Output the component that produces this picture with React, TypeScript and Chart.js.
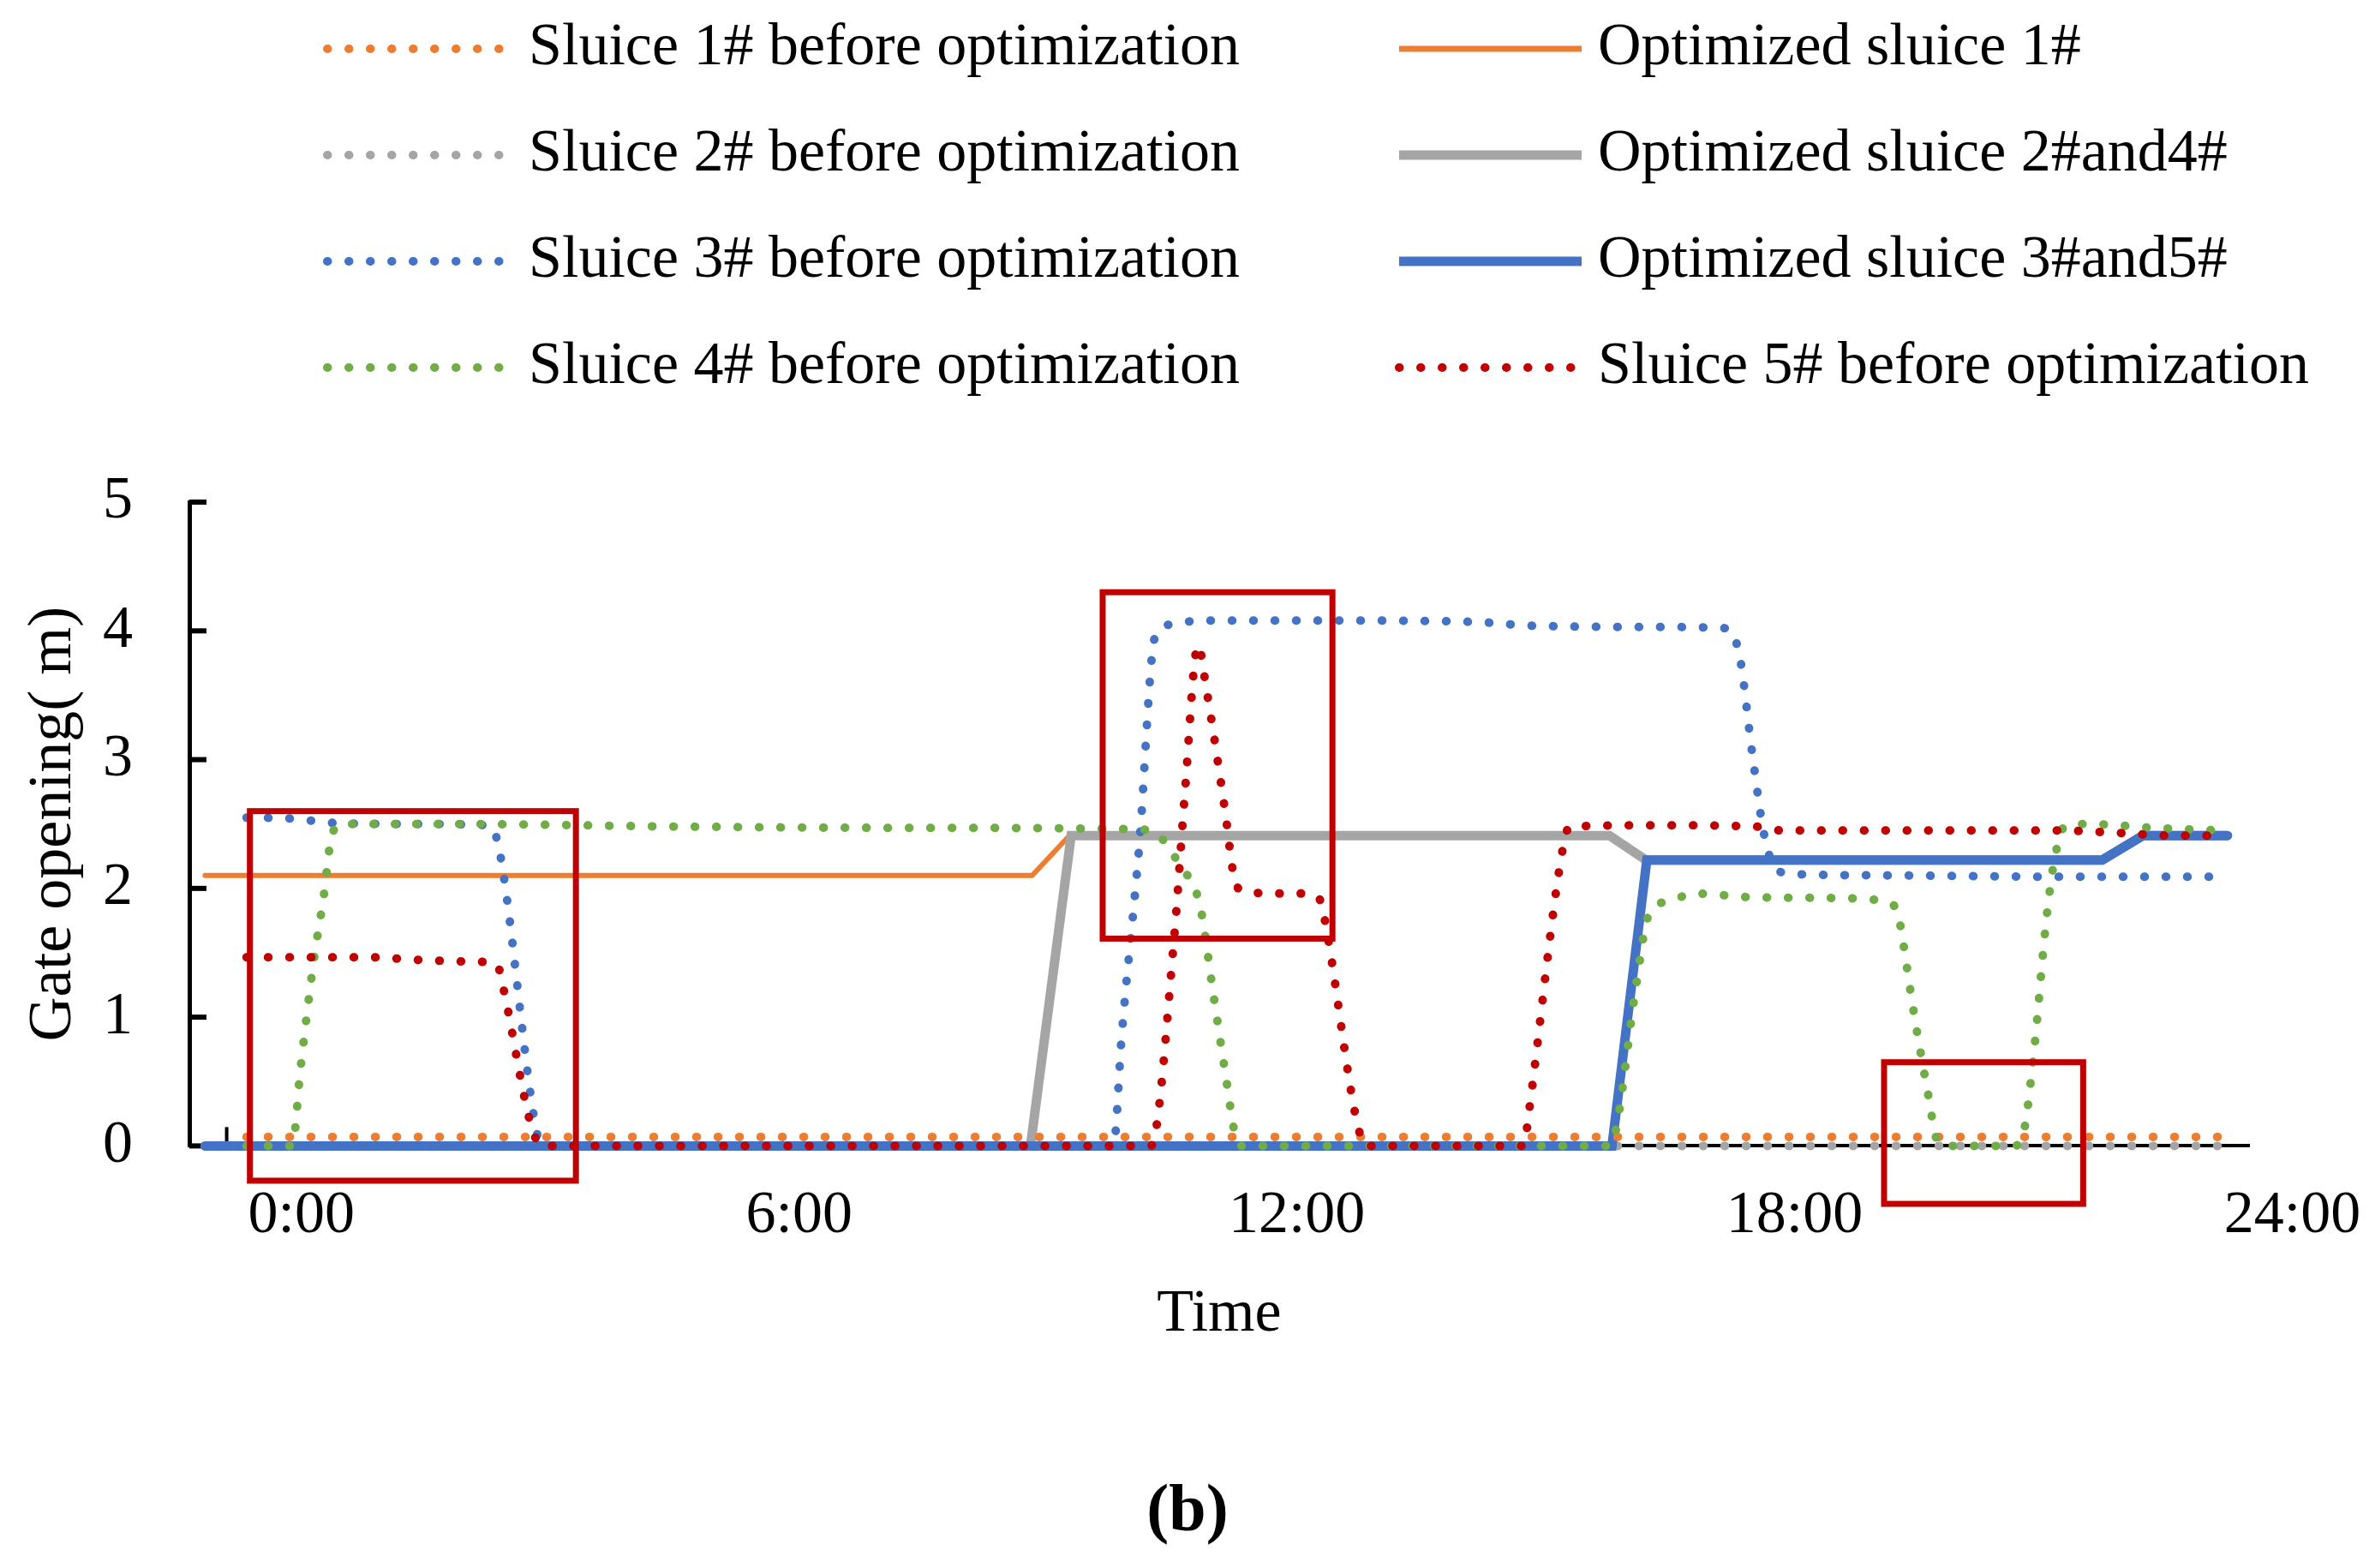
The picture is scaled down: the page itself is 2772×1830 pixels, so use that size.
import React, { useEffect, useRef } from 'react';
import { Chart, registerables } from 'chart.js';

Chart.register(...registerables);

const FONT = '"Liberation Serif", "Times New Roman", Times, serif';

// ---------- axis ticks ----------
const X_TICK_HOURS = [0, 6, 12, 18, 24];
const X_TICK_LABELS = ['0:00', '6:00', '12:00', '18:00', '24:00'];
const X_INNER_TICKS = [-0.24];
const Y_TICKS = [0, 1, 2, 3, 4, 5];

// ---------- series (hours, gate opening in m) ----------
const S1_BEFORE_H = [0, 23.78];
const S1_BEFORE_V = [0.07, 0.07];

const S2_BEFORE_H = [0, 23.78];
const S2_BEFORE_V = [0, 0];

const S3_BEFORE_H = [0, 0.6, 1.0, 2.0, 2.92, 3.04, 3.5, 3.57, 10.45, 10.55, 10.76, 10.95, 11.15, 11.5, 13.0, 14.8, 15.5, 17.0, 17.85, 18.0, 18.15, 18.3, 18.45, 18.7, 20.0, 22.0, 23.78];
const S3_BEFORE_V = [2.55, 2.54, 2.51, 2.5, 2.49, 2.32, 0.1, 0, 0, 0.86, 2.32, 3.95, 4.05, 4.08, 4.08, 4.07, 4.04, 4.03, 4.02, 3.8, 3.05, 2.4, 2.14, 2.11, 2.1, 2.09, 2.09];

const S4_BEFORE_H = [0, 0.55, 0.65, 0.81, 0.93, 1.03, 1.16, 2.5, 5.2, 8.0, 10.7, 11.0, 11.15, 11.3, 11.43, 11.5, 11.65, 11.8, 11.92, 12.0, 16.43, 16.75, 16.87, 16.97, 17.2, 17.45, 18.2, 19.5, 19.72, 19.9, 19.95, 20.1, 20.28, 20.37, 20.5, 21.3, 21.42, 21.55, 21.69, 21.79, 21.93, 22.2, 23.0, 23.78];
const S4_BEFORE_V = [0, 0, 0.6, 1.44, 1.94, 2.42, 2.5, 2.5, 2.48, 2.47, 2.46, 2.41, 2.28, 2.14, 2.0, 1.85, 1.2, 0.56, 0.08, 0, 0, 1.24, 1.73, 1.85, 1.91, 1.96, 1.93, 1.92, 1.9, 1.83, 1.66, 1.03, 0.37, 0.06, 0, 0, 0.1, 0.75, 1.72, 2.21, 2.49, 2.5, 2.47, 2.45];

const S5_BEFORE_H = [0, 1.5, 2.05, 2.8, 3.02, 3.09, 3.43, 3.56, 10.9, 11.18, 11.31, 11.47, 11.57, 11.8, 11.9, 12.0, 12.5, 12.8, 12.95, 13.0, 13.46, 13.5, 15.4, 15.45, 15.87, 15.95, 17.0, 18.2, 18.5, 21.8, 22.6, 23.2, 23.78];
const S5_BEFORE_V = [1.465, 1.465, 1.445, 1.43, 1.41, 1.24, 0.16, 0, 0, 1.6, 2.73, 3.89, 3.55, 2.58, 2.1, 1.98, 1.96, 1.96, 1.9, 1.75, 0.02, 0, 0, 0.22, 2.32, 2.48, 2.49, 2.48, 2.45, 2.45, 2.43, 2.41, 2.41];

const OPT1_H = [-0.5, 9.47, 9.92, 16.43, 16.87, 22.37, 22.86, 23.88];
const OPT1_V = [2.1, 2.1, 2.41, 2.41, 2.22, 2.22, 2.41, 2.41];

const OPT24_H = [-0.5, 9.45, 9.94, 16.43, 16.87, 22.37, 22.86, 23.88];
const OPT24_V = [0, 0, 2.41, 2.41, 2.22, 2.22, 2.41, 2.41];

const OPT35_H = [-0.5, 16.46, 16.88, 22.37, 22.86, 23.88];
const OPT35_V = [0, 0, 2.22, 2.22, 2.41, 2.41];

// ---------- highlight boxes (hours / metres) ----------
const BOX_H_FROM = [0.04, 10.32, 19.74];
const BOX_H_TO = [3.97, 13.09, 22.14];
const BOX_V_FROM = [-0.27, 1.61, -0.45];
const BOX_V_TO = [2.6, 4.3, 0.65];

const ORANGE = '#ED7D31';
const GRAY = '#A5A5A5';
const BLUE = '#4472C4';
const GREEN = '#70AD47';
const RED = '#C00000';

const pts = (h: number[], v: number[]) => h.map((x, i) => ({ x, y: v[i] }));

const DOT = [0.5, 24.5];

const dotted = (label: string, color: string, h: number[], v: number[], order: number) => ({
  label,
  data: pts(h, v),
  borderColor: color,
  backgroundColor: color,
  borderWidth: 10,
  borderDash: DOT,
  borderCapStyle: 'round' as const,
  cubicInterpolationMode: 'monotone' as const,
  pointRadius: 0,
  clip: false as const,
  order,
});

const solid = (label: string, color: string, width: number, h: number[], v: number[], order: number) => ({
  label,
  data: pts(h, v),
  borderColor: color,
  backgroundColor: color,
  borderWidth: width,
  borderCapStyle: 'round' as const,
  borderJoinStyle: 'miter' as const,
  tension: 0,
  pointRadius: 0,
  clip: false as const,
  order,
});

// legend layout: dataset indices in two columns
const LEGEND_COLS = [
  { items: [0, 1, 2, 3], x0: 382, x1: 583, textX: 617 },
  { items: [4, 5, 6, 7], x0: 1633, x1: 1846, textX: 1865 },
];
const LEGEND_ROW_Y0 = 57;
const LEGEND_ROW_GAP = 124;

const decorPlugin = {
  id: 'decor',
  beforeDatasetsDraw(chart: any) {
    const { ctx, scales } = chart;
    const x = scales.x;
    const y = scales.y;
    ctx.save();
    ctx.strokeStyle = '#000';
    ctx.lineCap = 'butt';
    ctx.lineWidth = 6;
    Y_TICKS.forEach((v) => {
      const py = y.getPixelForValue(v);
      ctx.beginPath();
      ctx.moveTo(x.left, py);
      ctx.lineTo(x.left + 20, py);
      ctx.stroke();
    });
    ctx.lineWidth = 4;
    X_INNER_TICKS.forEach((h) => {
      const px = x.getPixelForValue(h);
      ctx.beginPath();
      ctx.moveTo(px, y.bottom);
      ctx.lineTo(px, y.bottom - 22);
      ctx.stroke();
    });
    ctx.restore();
  },
  afterDraw(chart: any) {
    const { ctx, scales } = chart;
    const x = scales.x;
    const y = scales.y;
    ctx.save();
    // highlight boxes
    ctx.strokeStyle = RED;
    ctx.lineWidth = 7;
    ctx.setLineDash([]);
    BOX_H_FROM.forEach((h0, i) => {
      const l = x.getPixelForValue(h0);
      const r = x.getPixelForValue(BOX_H_TO[i]);
      const t = y.getPixelForValue(BOX_V_TO[i]);
      const b = y.getPixelForValue(BOX_V_FROM[i]);
      ctx.strokeRect(l, t, r - l, b - t);
    });
    // legend
    const datasets = chart.data.datasets;
    ctx.font = `70px ${FONT}`;
    ctx.textBaseline = 'middle';
    ctx.textAlign = 'left';
    LEGEND_COLS.forEach((col) => {
      col.items.forEach((di, row) => {
        const ds = datasets[di];
        const yy = LEGEND_ROW_Y0 + row * LEGEND_ROW_GAP;
        ctx.beginPath();
        ctx.strokeStyle = ds.borderColor;
        ctx.lineWidth = ds.borderDash ? ds.borderWidth : Math.max(ds.borderWidth, 7);
        ctx.lineCap = ds.borderDash ? 'round' : 'butt';
        ctx.setLineDash(ds.borderDash || []);
        ctx.moveTo(col.x0, yy);
        ctx.lineTo(col.x1, yy);
        ctx.stroke();
        ctx.setLineDash([]);
        ctx.fillStyle = '#000';
        ctx.fillText(ds.label, col.textX, yy);
      });
    });
    ctx.restore();
  },
};

export default function App() {
  const canvasRef = useRef<HTMLCanvasElement | null>(null);

  useEffect(() => {
    const canvas = canvasRef.current;
    if (!canvas) return;
    const chart = new Chart(canvas, {
      type: 'line',
      data: {
        datasets: [
          dotted('Sluice 1# before optimization', ORANGE, S1_BEFORE_H, S1_BEFORE_V, 3),
          dotted('Sluice 2# before optimization', GRAY, S2_BEFORE_H, S2_BEFORE_V, 7),
          dotted('Sluice 3# before optimization', BLUE, S3_BEFORE_H, S3_BEFORE_V, 2),
          dotted('Sluice 4# before optimization', GREEN, S4_BEFORE_H, S4_BEFORE_V, 1),
          solid('Optimized sluice 1#', ORANGE, 6, OPT1_H, OPT1_V, 6),
          solid('Optimized sluice 2#and4#', GRAY, 11, OPT24_H, OPT24_V, 5),
          solid('Optimized sluice 3#and5#', BLUE, 11, OPT35_H, OPT35_V, 4),
          dotted('Sluice 5# before optimization', RED, S5_BEFORE_H, S5_BEFORE_V, 0),
        ] as any,
      },
      options: {
        animation: false,
        responsive: true,
        maintainAspectRatio: false,
        devicePixelRatio: 1,
        events: [],
        layout: { padding: { top: 586, right: 0, left: 0, bottom: 0 } },
        plugins: {
          legend: { display: false },
          tooltip: { enabled: false },
          title: {
            display: true,
            text: '(b)',
            position: 'bottom',
            color: '#000',
            font: { family: FONT, size: 78, weight: 'bold' },
            padding: { top: 0, bottom: 17 },
          },
        },
        scales: {
          x: {
            type: 'linear',
            min: -0.69,
            max: 24.14,
            grid: { display: false, drawTicks: false },
            border: { display: true, color: '#000', width: 4 },
            afterBuildTicks: (s: any) => {
              s.ticks = X_TICK_HOURS.map((v) => ({ value: v }));
            },
            afterFit: (s: any) => {
              s.height = 382;
            },
            ticks: {
              color: '#000',
              font: { family: FONT, size: 70 },
              padding: 40,
              labelOffset: 64,
              maxRotation: 0,
              autoSkip: false,
              callback: (v: any) => {
                const i = X_TICK_HOURS.indexOf(Number(v));
                return i >= 0 ? X_TICK_LABELS[i] : '';
              },
            },
            title: {
              display: true,
              text: 'Time',
              color: '#000',
              font: { family: FONT, size: 70 },
              padding: { top: 0, bottom: 143 },
            },
          },
          y: {
            type: 'linear',
            min: 0,
            max: 5,
            grid: { display: false, drawTicks: false },
            border: { display: true, color: '#000', width: 5 },
            afterBuildTicks: (s: any) => {
              s.ticks = Y_TICKS.map((v) => ({ value: v }));
            },
            afterFit: (s: any) => {
              s.width = 221;
            },
            ticks: {
              color: '#000',
              font: { family: FONT, size: 70 },
              padding: 66,
              callback: (v: any) => String(v),
            },
            title: {
              display: true,
              text: 'Gate opening( m)',
              color: '#000',
              font: { family: FONT, size: 72 },
              padding: { top: 20, bottom: 0 },
            },
          },
          yRight: {
            type: 'linear',
            position: 'right',
            display: true,
            min: 0,
            max: 5,
            grid: { display: false, drawTicks: false },
            border: { display: false },
            ticks: { display: false },
            afterFit: (s: any) => {
              s.width = 147;
            },
          },
        },
      } as any,
      plugins: [decorPlugin],
    });
    return () => chart.destroy();
  }, []);

  return (
    <div style={{ position: 'fixed', left: 0, top: 0, width: 2772, height: 1830, background: '#fff' }}>
      <canvas ref={canvasRef} />
    </div>
  );
}
